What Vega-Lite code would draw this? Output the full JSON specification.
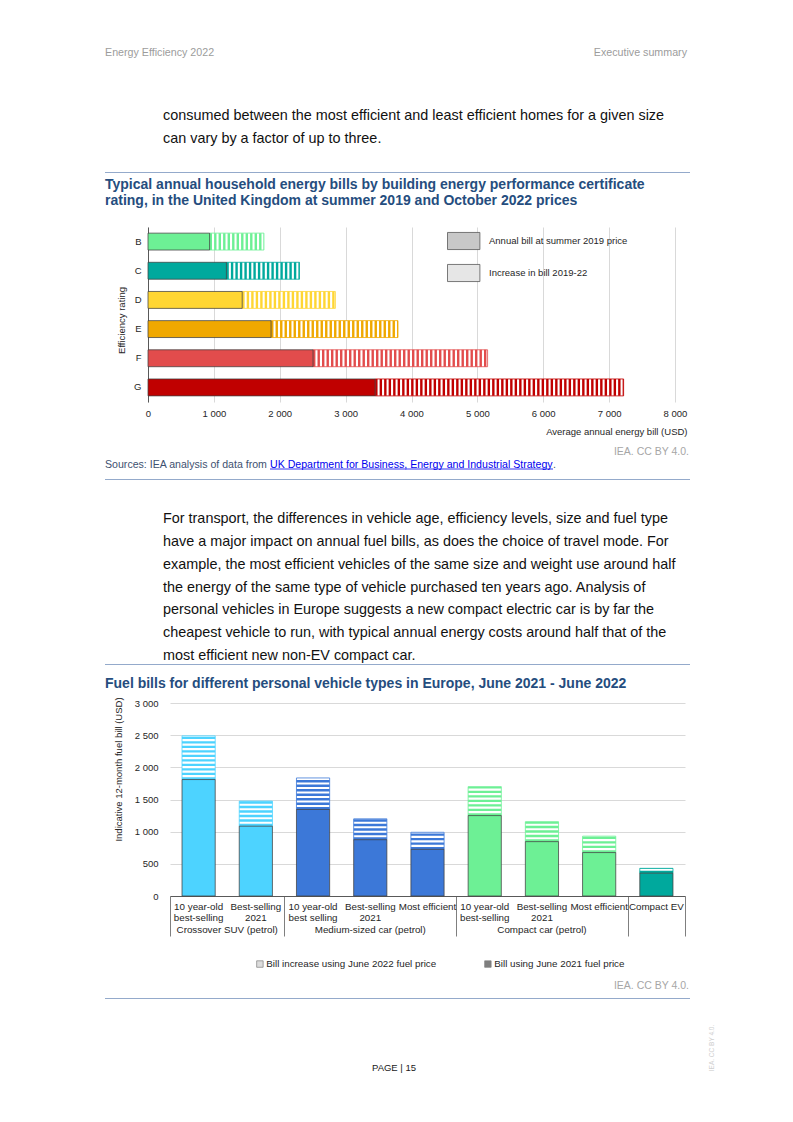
{
  "$schema": "https://vega.github.io/schema/vega-lite/v6.json",
  "background": "white",
  "padding": 0,
  "spacing": 0,
  "config": {
    "view": {"stroke": null},
    "font": "Liberation Sans",
    "axis": {"labelFont": "Liberation Sans", "titleFont": "Liberation Sans"},
    "legend": {"labelFont": "Liberation Sans"}
  },
  "resolve": {"scale": {"fill": "independent", "stroke": "independent"}, "legend": {"fill": "independent", "stroke": "independent"}},
  "vconcat": [
    {"width": 793, "height": 46, "data": {"values": []}, "mark": "point"},
    {
      "hconcat": [
        {"width": 105, "height": 58, "data": {"values": []}, "mark": "point"},
        {
          "width": 582, "height": 14,
          "layer": [
            {"data": {"values": [{"t": "Energy Efficiency 2022"}]}, "mark": {"type": "text", "align": "left", "baseline": "middle", "fontSize": 10.7, "color": "#9C9C9C"}, "encoding": {"text": {"field": "t"}, "x": {"value": 0}}},
            {"data": {"values": [{"t": "Executive summary"}]}, "mark": {"type": "text", "align": "right", "baseline": "middle", "fontSize": 10.7, "color": "#9C9C9C"}, "encoding": {"text": {"field": "t"}, "x": {"value": "width"}}}
          ]
        }
      ],
      "spacing": 0, "bounds": "flush"
    },
    {
      "hconcat": [
        {"width": 163, "height": 68, "data": {"values": []}, "mark": "point"},
        {
          "width": 524, "height": 46,
          "data": {"values": [
            {"n": 1, "t": "consumed between the most efficient and least efficient homes for a given size"},
            {"n": 2, "t": "can vary by a factor of up to three."}
          ]},
          "mark": {"type": "text", "align": "left", "baseline": "middle", "fontSize": 14.4, "color": "#111111"},
          "encoding": {"text": {"field": "t"}, "x": {"value": 0}, "y": {"field": "n", "type": "ordinal", "scale": {"type": "point", "padding": 0.5}, "axis": null}}
        }
      ],
      "spacing": 0, "bounds": "flush"
    },
    {
      "hconcat": [
        {"width": 105, "height": 5, "data": {"values": []}, "mark": "point"},
        {"width": 585, "height": 1, "data": {"values": []}, "mark": "point", "view": {"fill": "#94AACB"}}
      ],
      "spacing": 0, "bounds": "flush"
    },
    {
      "hconcat": [
        {"width": 105, "height": 50, "data": {"values": []}, "mark": "point"},
        {
          "width": 585, "height": 32,
          "data": {"values": [
            {"n": 1, "t": "Typical annual household energy bills by building energy performance certificate"},
            {"n": 2, "t": "rating, in the United Kingdom at summer 2019 and October 2022 prices"}
          ]},
          "mark": {"type": "text", "align": "left", "baseline": "middle", "fontSize": 14, "fontWeight": "bold", "color": "#254D7E"},
          "encoding": {"text": {"field": "t"}, "x": {"value": 0}, "y": {"field": "n", "type": "ordinal", "scale": {"type": "point", "padding": 0.5}, "axis": null}}
        }
      ],
      "spacing": 0, "bounds": "flush"
    },
    {
      "hconcat": [
        {"width": 148, "height": 217, "data": {"values": []}, "mark": "point"},
        {
          "width": 527, "height": 175,
          "data": {"values": [
            {"rating": "B", "base": 935, "total": 1760},
            {"rating": "C", "base": 1190, "total": 2300},
            {"rating": "D", "base": 1430, "total": 2845},
            {"rating": "E", "base": 1868, "total": 3795},
            {"rating": "F", "base": 2505, "total": 5155},
            {"rating": "G", "base": 3448, "total": 7220}
          ]},
          "layer": [
            {
              "mark": {"type": "bar", "fill": "white", "strokeWidth": 0.8},
              "encoding": {
                "y": {"field": "rating", "type": "nominal", "sort": null, "scale": {"paddingInner": 0.42, "paddingOuter": 0.21},
                  "axis": {"title": "Efficiency rating", "domain": true, "domainColor": "#595959", "domainWidth": 1, "ticks": false, "labelPadding": 7, "labelFontSize": 9.5, "labelColor": "#262626", "titleFontSize": 9.5, "titleFontWeight": "normal", "titleColor": "#262626", "titleX": -27, "titleY": 93, "titleAngle": 270, "titleAlign": "center", "titleBaseline": "middle", "grid": false}},
                "x": {"field": "base", "type": "quantitative", "scale": {"domain": [0, 8000], "nice": false},
                  "axis": {"values": [0, 1000, 2000, 3000, 4000, 5000, 6000, 7000, 8000], "labelExpr": "replace(format(datum.value, ','), ',', ' ')", "grid": true, "gridColor": "#D9D9D9", "domain": false, "ticks": false, "labelPadding": 6.5, "labelFontSize": 9.5, "labelColor": "#262626", "labelFlush": false, "title": "Average annual energy bill (USD)", "titleFontSize": 9.5, "titleFontWeight": "normal", "titleColor": "#262626", "titleX": 539, "titleY": 29, "titleAlign": "right", "titleBaseline": "middle"}},
                "x2": {"field": "total"},
                "stroke": {"field": "rating", "type": "nominal", "scale": {"domain": ["B", "C", "D", "E", "F", "G"], "range": ["#6DF095", "#00A99D", "#FFD633", "#F0A800", "#E24C4C", "#C00000"]}, "legend": null}
              }
            },
            {
              "mark": {"type": "rule", "strokeWidth": 16.9, "strokeDash": [2.4, 2.1]},
              "encoding": {
                "y": {"field": "rating", "type": "nominal", "sort": null,
                  "axis": {"title": "Efficiency rating", "domain": true, "domainColor": "#595959", "domainWidth": 1, "ticks": false, "labelPadding": 7, "labelFontSize": 9.5, "labelColor": "#262626", "titleFontSize": 9.5, "titleFontWeight": "normal", "titleColor": "#262626", "titleX": -27, "titleY": 93, "titleAngle": 270, "titleAlign": "center", "titleBaseline": "middle", "grid": false}},
                "x": {"field": "base", "type": "quantitative",
                  "axis": {"values": [0, 1000, 2000, 3000, 4000, 5000, 6000, 7000, 8000], "labelExpr": "replace(format(datum.value, ','), ',', ' ')", "grid": true, "gridColor": "#D9D9D9", "domain": false, "ticks": false, "labelPadding": 6.5, "labelFontSize": 9.5, "labelColor": "#262626", "labelFlush": false, "title": "Average annual energy bill (USD)", "titleFontSize": 9.5, "titleFontWeight": "normal", "titleColor": "#262626", "titleX": 539, "titleY": 29, "titleAlign": "right", "titleBaseline": "middle"}},
                "x2": {"field": "total"},
                "stroke": {"field": "rating", "type": "nominal", "legend": null}
              }
            },
            {
              "mark": {"type": "bar", "stroke": "#404040", "strokeWidth": 0.75},
              "encoding": {
                "y": {"field": "rating", "type": "nominal", "sort": null,
                  "axis": {"title": "Efficiency rating", "domain": true, "domainColor": "#595959", "domainWidth": 1, "ticks": false, "labelPadding": 7, "labelFontSize": 9.5, "labelColor": "#262626", "titleFontSize": 9.5, "titleFontWeight": "normal", "titleColor": "#262626", "titleX": -27, "titleY": 93, "titleAngle": 270, "titleAlign": "center", "titleBaseline": "middle", "grid": false}},
                "x": {"field": "base", "type": "quantitative", "stack": null,
                  "axis": {"values": [0, 1000, 2000, 3000, 4000, 5000, 6000, 7000, 8000], "labelExpr": "replace(format(datum.value, ','), ',', ' ')", "grid": true, "gridColor": "#D9D9D9", "domain": false, "ticks": false, "labelPadding": 6.5, "labelFontSize": 9.5, "labelColor": "#262626", "labelFlush": false, "title": "Average annual energy bill (USD)", "titleFontSize": 9.5, "titleFontWeight": "normal", "titleColor": "#262626", "titleX": 539, "titleY": 29, "titleAlign": "right", "titleBaseline": "middle"}},
                "fill": {"field": "rating", "type": "nominal", "scale": {"domain": ["B", "C", "D", "E", "F", "G"], "range": ["#6DF095", "#00A99D", "#FFD633", "#F0A800", "#E24C4C", "#C00000"]}, "legend": null}
              }
            },
            {
              "data": {"values": [{"series": "Annual bill at summer 2019 price"}, {"series": "Increase in bill 2019-22"}]},
              "mark": {"type": "rect"},
              "encoding": {
                "x": {"datum": 0, "type": "quantitative",
                  "axis": {"values": [0, 1000, 2000, 3000, 4000, 5000, 6000, 7000, 8000], "labelExpr": "replace(format(datum.value, ','), ',', ' ')", "grid": true, "gridColor": "#D9D9D9", "domain": false, "ticks": false, "labelPadding": 6.5, "labelFontSize": 9.5, "labelColor": "#262626", "labelFlush": false, "title": "Average annual energy bill (USD)", "titleFontSize": 9.5, "titleFontWeight": "normal", "titleColor": "#262626", "titleX": 539, "titleY": 29, "titleAlign": "right", "titleBaseline": "middle"}},
                "x2": {"datum": 0},
                "fill": {"field": "series", "type": "nominal", "scale": {"domain": ["Annual bill at summer 2019 price", "Increase in bill 2019-22"], "range": ["#C8C8C8", "#E6E6E6"]},
                  "legend": {"orient": "none", "legendX": 306.2, "legendY": 4.5, "direction": "vertical", "title": null, "symbolType": "M-1.8,-0.95H1.8V0.95H-1.8Z", "symbolSize": 324, "symbolStrokeColor": "#595959", "symbolStrokeWidth": 0.8, "labelFontSize": 9.5, "labelColor": "#262626", "labelOffset": 15.8, "labelLimit": 0, "rowPadding": 11, "padding": 0}}
              }
            }
          ],
          "resolve": {"scale": {"fill": "independent"}, "legend": {"fill": "independent"}}
        }
      ],
      "spacing": 0, "bounds": "flush",
      "resolve": {"scale": {"fill": "independent", "stroke": "independent"}, "legend": {"fill": "independent", "stroke": "independent"}}
    },
    {
      "hconcat": [
        {"width": 105, "height": 15, "data": {"values": []}, "mark": "point"},
        {"width": 584, "height": 15, "data": {"values": [{"t": "IEA. CC BY 4.0."}]}, "mark": {"type": "text", "align": "right", "baseline": "middle", "fontSize": 10.5, "color": "#A6A6A6"}, "encoding": {"text": {"field": "t"}, "x": {"value": "width"}}}
      ],
      "spacing": 0, "bounds": "flush"
    },
    {
      "hconcat": [
        {"width": 105, "height": 20, "data": {"values": []}, "mark": "point"},
        {"width": 165, "height": 12, "data": {"values": [{"t": "Sources: IEA analysis of data from"}]}, "mark": {"type": "text", "align": "left", "baseline": "middle", "fontSize": 10.6, "color": "#3E5170"}, "encoding": {"text": {"field": "t"}, "x": {"value": 0}}},
        {
          "width": 283, "height": 12,
          "layer": [
            {"data": {"values": [{"t": "UK Department for Business, Energy and Industrial Strategy"}]}, "mark": {"type": "text", "align": "left", "baseline": "middle", "fontSize": 10.6, "color": "#0000EE"}, "encoding": {"text": {"field": "t"}, "x": {"value": 0}}},
            {"data": {"values": [{}]}, "mark": {"type": "rule", "color": "#0000EE", "strokeWidth": 0.8, "yOffset": -2}, "encoding": {"y": {"value": "height"}}}
          ]
        },
        {"width": 6, "height": 12, "data": {"values": [{"t": "."}]}, "mark": {"type": "text", "align": "left", "baseline": "middle", "fontSize": 10.6, "color": "#3E5170"}, "encoding": {"text": {"field": "t"}, "x": {"value": 0}}}
      ],
      "spacing": 0, "bounds": "flush"
    },
    {
      "hconcat": [
        {"width": 105, "height": 32, "data": {"values": []}, "mark": "point"},
        {"width": 585, "height": 1, "data": {"values": []}, "mark": "point", "view": {"fill": "#94AACB"}}
      ],
      "spacing": 0, "bounds": "flush"
    },
    {
      "hconcat": [
        {"width": 163, "height": 153, "data": {"values": []}, "mark": "point"},
        {
          "width": 524, "height": 153,
          "data": {"values": [
            {"n": 1, "t": "For transport, the differences in vehicle age, efficiency levels, size and fuel type"},
            {"n": 2, "t": "have a major impact on annual fuel bills, as does the choice of travel mode. For"},
            {"n": 3, "t": "example, the most efficient vehicles of the same size and weight use around half"},
            {"n": 4, "t": "the energy of the same type of vehicle purchased ten years ago. Analysis of"},
            {"n": 5, "t": "personal vehicles in Europe suggests a new compact electric car is by far the"},
            {"n": 6, "t": "cheapest vehicle to run, with typical annual energy costs around half that of the"},
            {"n": 7, "t": "most efficient new non-EV compact car."}
          ]},
          "mark": {"type": "text", "align": "left", "baseline": "middle", "fontSize": 14.4, "color": "#111111"},
          "encoding": {"text": {"field": "t"}, "x": {"value": 0}, "y": {"field": "n", "type": "ordinal", "scale": {"type": "point", "padding": 0.355}, "axis": null}}
        }
      ],
      "spacing": 0, "bounds": "flush"
    },
    {
      "hconcat": [
        {"width": 105, "height": 12, "data": {"values": []}, "mark": "point"},
        {"width": 585, "height": 1, "data": {"values": []}, "mark": "point", "view": {"fill": "#94AACB"}}
      ],
      "spacing": 0, "bounds": "flush"
    },
    {
      "hconcat": [
        {"width": 105, "height": 20, "data": {"values": []}, "mark": "point"},
        {"width": 585, "height": 16, "data": {"values": [{"t": "Fuel bills for different personal vehicle types in Europe, June 2021 - June 2022"}]}, "mark": {"type": "text", "align": "left", "baseline": "middle", "fontSize": 14, "fontWeight": "bold", "color": "#254D7E"}, "encoding": {"text": {"field": "t"}, "x": {"value": 0}}}
      ],
      "spacing": 0, "bounds": "flush"
    },
    {
      "hconcat": [
        {"width": 170, "height": 274, "data": {"values": []}, "mark": "point"},
        {
          "width": 515, "height": 193,
          "data": {"values": [
            {"id": "a|10 year-old|best-selling", "group": "Crossover SUV (petrol)", "base": 1810, "total": 2490},
            {"id": "b|Best-selling|2021", "group": "Crossover SUV (petrol)", "base": 1085, "total": 1475},
            {"id": "c|10 year-old|best selling", "group": "Medium-sized car (petrol)", "base": 1345, "total": 1835},
            {"id": "d|Best-selling|2021", "group": "Medium-sized car (petrol)", "base": 875, "total": 1200},
            {"id": "e|Most efficient", "group": "Medium-sized car (petrol)", "base": 725, "total": 990},
            {"id": "f|10 year-old|best-selling", "group": "Compact car (petrol)", "base": 1250, "total": 1700},
            {"id": "g|Best-selling|2021", "group": "Compact car (petrol)", "base": 845, "total": 1155},
            {"id": "h|Most efficient", "group": "Compact car (petrol)", "base": 675, "total": 930},
            {"id": "i|Compact EV", "group": "Compact EV", "base": 355, "total": 430}
          ]},
          "layer": [
            {
              "mark": {"type": "bar", "fill": "white", "strokeWidth": 0.8, "width": {"band": 0.58}},
              "encoding": {
                "x": {"field": "id", "type": "nominal", "sort": null, "scale": {"paddingInner": 0, "paddingOuter": 0},
                  "axis": {"orient": "bottom", "labelExpr": "substring(datum.value, 0, 1) == 'a' ? 'Crossover SUV (petrol)' : substring(datum.value, 0, 1) == 'd' ? 'Medium-sized car (petrol)' : substring(datum.value, 0, 1) == 'g' ? 'Compact car (petrol)' : ''", "labelPadding": 28.5, "labelFontSize": 9.8, "labelColor": "#262626", "labelAngle": 0, "labelBaseline": "top", "labelLimit": 0, "labelOffset": {"condition": {"test": "substring(datum.value, 0, 1) == 'a'", "value": 28.6}, "value": 0}, "domain": false, "ticks": false, "grid": false, "title": null}},
                "y": {"field": "base", "type": "quantitative", "scale": {"domain": [0, 3000], "nice": false},
                  "axis": {"values": [0, 500, 1000, 1500, 2000, 2500, 3000], "labelExpr": "replace(format(datum.value, ','), ',', ' ')", "labelOverlap": false, "grid": true, "gridColor": "#D9D9D9", "domain": false, "ticks": false, "labelPadding": 12, "labelFontSize": 9.5, "labelColor": "#262626", "title": "Indicative 12-month fuel bill (USD)", "titleFontSize": 9.5, "titleFontWeight": "normal", "titleColor": "#262626", "titleX": -52, "titleY": 66, "titleAngle": 270, "titleAlign": "center", "titleBaseline": "middle"}},
                "y2": {"field": "total"},
                "stroke": {"field": "group", "type": "nominal", "scale": {"domain": ["Crossover SUV (petrol)", "Medium-sized car (petrol)", "Compact car (petrol)", "Compact EV"], "range": ["#4DD3FF", "#3C78D8", "#6DF095", "#00A99D"]}, "legend": null}
              }
            },
            {
              "mark": {"type": "rule", "strokeWidth": 33.2, "strokeDash": [2.4, 2.1]},
              "encoding": {
                "x": {"field": "id", "type": "nominal", "sort": null,
                  "axis": {"orient": "bottom", "labels": false, "domain": false, "ticks": true, "tickBand": "extent", "tickSize": 40, "tickWidth": 1, "tickColor": {"condition": {"test": "isValid(datum.extra) || indexof('behi', substring(datum.value + '', 0, 1)) >= 0", "value": "#7F7F7F"}, "value": "transparent"}, "grid": false, "title": null}},
                "y": {"field": "base", "type": "quantitative",
                  "axis": {"values": [0, 500, 1000, 1500, 2000, 2500, 3000], "labelExpr": "replace(format(datum.value, ','), ',', ' ')", "labelOverlap": false, "grid": true, "gridColor": "#D9D9D9", "domain": false, "ticks": false, "labelPadding": 12, "labelFontSize": 9.5, "labelColor": "#262626", "title": "Indicative 12-month fuel bill (USD)", "titleFontSize": 9.5, "titleFontWeight": "normal", "titleColor": "#262626", "titleX": -52, "titleY": 66, "titleAngle": 270, "titleAlign": "center", "titleBaseline": "middle"}},
                "y2": {"field": "total"},
                "stroke": {"field": "group", "type": "nominal", "legend": null}
              }
            },
            {
              "mark": {"type": "bar", "stroke": "#404040", "strokeWidth": 0.75, "width": {"band": 0.58}},
              "encoding": {
                "x": {"field": "id", "type": "nominal", "sort": null,
                  "axis": {"orient": "bottom", "labelExpr": "slice(split(datum.value, '|'), 1)", "labelLineHeight": 11, "labelBaseline": "top", "labelPadding": 5.5, "labelFontSize": 9.8, "labelColor": "#262626", "labelAngle": 0, "labelLimit": 0, "domain": true, "domainColor": "#595959", "ticks": false, "grid": false, "title": null}},
                "y": {"field": "base", "type": "quantitative", "stack": null,
                  "axis": {"values": [0, 500, 1000, 1500, 2000, 2500, 3000], "labelExpr": "replace(format(datum.value, ','), ',', ' ')", "labelOverlap": false, "grid": true, "gridColor": "#D9D9D9", "domain": false, "ticks": false, "labelPadding": 12, "labelFontSize": 9.5, "labelColor": "#262626", "title": "Indicative 12-month fuel bill (USD)", "titleFontSize": 9.5, "titleFontWeight": "normal", "titleColor": "#262626", "titleX": -52, "titleY": 66, "titleAngle": 270, "titleAlign": "center", "titleBaseline": "middle"}},
                "fill": {"field": "group", "type": "nominal", "scale": {"domain": ["Crossover SUV (petrol)", "Medium-sized car (petrol)", "Compact car (petrol)", "Compact EV"], "range": ["#4DD3FF", "#3C78D8", "#6DF095", "#00A99D"]}, "legend": null}
              }
            },
            {
              "data": {"values": [{"series": "Bill increase using June 2022 fuel price"}, {"series": "Bill using June 2021 fuel price"}]},
              "mark": {"type": "rect"},
              "encoding": {
                "y": {"datum": 0, "type": "quantitative",
                  "axis": {"values": [0, 500, 1000, 1500, 2000, 2500, 3000], "labelExpr": "replace(format(datum.value, ','), ',', ' ')", "labelOverlap": false, "grid": true, "gridColor": "#D9D9D9", "domain": false, "ticks": false, "labelPadding": 12, "labelFontSize": 9.5, "labelColor": "#262626", "title": "Indicative 12-month fuel bill (USD)", "titleFontSize": 9.5, "titleFontWeight": "normal", "titleColor": "#262626", "titleX": -52, "titleY": 66, "titleAngle": 270, "titleAlign": "center", "titleBaseline": "middle"}},
                "y2": {"datum": 0},
                "fill": {"field": "series", "type": "nominal", "scale": {"domain": ["Bill increase using June 2022 fuel price", "Bill using June 2021 fuel price"], "range": ["#DCDCDC", "#7F7F7F"]},
                  "legend": {"orient": "none", "legendX": 85, "legendY": 256, "direction": "horizontal", "title": null, "symbolType": "square", "symbolSize": 42, "symbolStrokeColor": "#7F7F7F", "symbolStrokeWidth": 0.7, "labelFontSize": 9.8, "labelColor": "#262626", "labelOffset": 1.5, "labelLimit": 0, "columnPadding": 46, "padding": 0}}
              }
            }
          ],
          "resolve": {"scale": {"fill": "independent"}, "legend": {"fill": "independent"}, "axis": {"x": "independent"}}
        }
      ],
      "spacing": 0, "bounds": "flush",
      "resolve": {"scale": {"fill": "independent", "stroke": "independent"}, "legend": {"fill": "independent", "stroke": "independent"}}
    },
    {
      "hconcat": [
        {"width": 105, "height": 21, "data": {"values": []}, "mark": "point"},
        {"width": 584, "height": 18, "data": {"values": [{"t": "IEA. CC BY 4.0."}]}, "mark": {"type": "text", "align": "right", "baseline": "middle", "fontSize": 10.5, "color": "#A6A6A6"}, "encoding": {"text": {"field": "t"}, "x": {"value": "width"}}}
      ],
      "spacing": 0, "bounds": "flush"
    },
    {
      "hconcat": [
        {"width": 105, "height": 22, "data": {"values": []}, "mark": "point"},
        {"width": 585, "height": 1, "data": {"values": []}, "mark": "point", "view": {"fill": "#94AACB"}}
      ],
      "spacing": 0, "bounds": "flush"
    },
    {
      "hconcat": [
        {"width": 372, "height": 96, "data": {"values": []}, "mark": "point"},
        {"width": 60, "height": 96, "data": {"values": [{"t": "PAGE | 15"}]}, "mark": {"type": "text", "align": "left", "baseline": "middle", "fontSize": 9.5, "color": "#1A1A1A"}, "encoding": {"text": {"field": "t"}, "x": {"value": 0}}},
        {"width": 279, "height": 1, "data": {"values": []}, "mark": "point"},
        {"width": 2, "height": 56, "data": {"values": [{"t": "IEA. CC BY 4.0."}]}, "mark": {"type": "text", "angle": 270, "align": "center", "baseline": "middle", "fontSize": 6.5, "color": "#CFCFCF"}, "encoding": {"text": {"field": "t"}}}
      ],
      "spacing": 0, "bounds": "flush"
    }
  ]
}
